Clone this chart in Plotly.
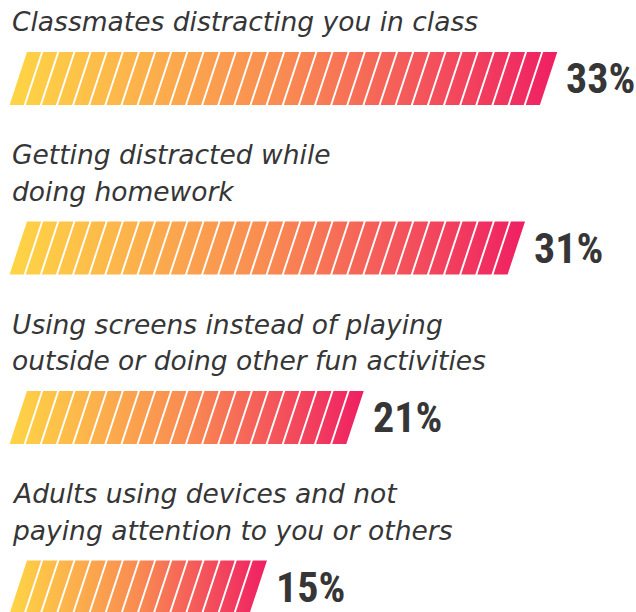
import plotly.graph_objects as go

# ---- data ----
labels = [
    ["Classmates distracting you in class"],
    ["Getting distracted while", "doing homework"],
    ["Using screens instead of playing", "outside or doing other fun activities"],
    ["Adults using devices and not", "paying attention to you or others"],
]
values = [33, 31, 21, 15]
value_labels = ["33%", "31%", "21%", "15%"]

# ---- layout constants ----
W, H = 636, 612
PX = 16.13          # pixels per percentage unit
X0 = 27             # pixel of value 0 at top edge of the bars
STRIPE = 0.876      # stripe width in units (rest is gap)
SLANT = 1.08        # horizontal shift of the bottom edge, units
BAR_H = 53
LINE_H = 36.5
FIRST_BASELINE = 31
LABEL_TO_BAR = 21
BAR_TO_NEXT = 59
LABEL_SIZE = 26.5

COLORSCALE = [[0.0, "#FFD545"], [0.5, "#F98B52"], [1.0, "#EF1F63"]]
TEXT_COLOR = "#363636"

fig = go.Figure()
annotations = []
y = FIRST_BASELINE
for lines, v, vl in zip(labels, values, value_labels):
    for k, line in enumerate(lines):
        baseline = y + k * LINE_H
        annotations.append(dict(
            text=line, x=10 / W, xref="paper", y=baseline - 0.346 * LABEL_SIZE, yref="y",
            xanchor="left", yanchor="middle", showarrow=False,
            font=dict(family="DejaVu Sans", size=LABEL_SIZE, color=TEXT_COLOR, style="italic"),
        ))
    top = y + (len(lines) - 1) * LINE_H + LABEL_TO_BAR
    bottom = top + BAR_H
    xs, ys = [], []
    for i in range(v):
        xs += [i, i + STRIPE, i + STRIPE - SLANT, i - SLANT, i, None]
        ys += [top, top, bottom, bottom, top, None]
    fig.add_trace(go.Scatter(
        x=xs, y=ys, mode="lines", fill="toself",
        line=dict(width=0, color="rgba(0,0,0,0)"),
        fillgradient=dict(type="horizontal", colorscale=COLORSCALE,
                          start=-SLANT, stop=v - (1 - STRIPE)),
        hoverinfo="skip", showlegend=False,
    ))
    annotations.append(dict(
        text=vl, x=v - (1 - STRIPE) + 7 / PX, xref="x",
        y=(top + bottom) / 2, yref="y",
        xanchor="left", yanchor="middle", showarrow=False,
        font=dict(family="Liberation Sans Narrow, Roboto Condensed, DejaVu Sans Condensed, sans-serif",
                  size=42, weight="bold", color=TEXT_COLOR),
    ))
    y = bottom + BAR_TO_NEXT

fig.update_layout(
    width=W, height=H,
    margin=dict(l=0, r=0, t=0, b=0),
    paper_bgcolor="white", plot_bgcolor="white",
    xaxis=dict(range=[-X0 / PX, (W - X0) / PX], visible=False, fixedrange=True),
    yaxis=dict(range=[H, 0], visible=False, fixedrange=True),
    annotations=annotations,
    showlegend=False,
)

fig.write_html(
    "out.html",
    config={"displayModeBar": False},
    post_script="document.body.style.margin='0';document.body.style.overflow='hidden';",
)
